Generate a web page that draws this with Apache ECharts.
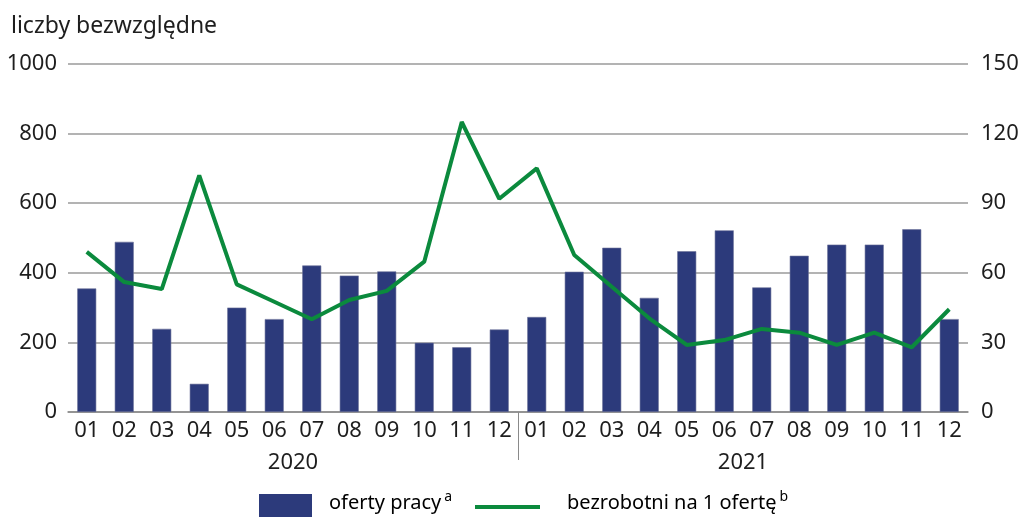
<!DOCTYPE html>
<html>
<head>
<meta charset="utf-8">
<script src="https://cdn.jsdelivr.net/npm/echarts@6/dist/echarts.min.js"></script>
<style>
html,body{margin:0;padding:0;background:#fff;}
#c{width:1025px;height:517px;}
</style>
</head>
<body>
<div id="c"></div>
<script>
const months = ['01','02','03','04','05','06','07','08','09','10','11','12','01','02','03','04','05','06','07','08','09','10','11','12'];
const years = ['2020','2021'];
const ofertyPracy = [355,489,239,81,300,267,421,392,404,199,186,237,273,403,472,328,462,522,358,449,481,481,525,267];
const bezrobotniNaOferte = [69,56,53,102,55,47.5,40,48.3,52.2,64.8,125,91.9,105,67.7,54,40.4,28.9,31,35.8,34.2,28.9,34.2,27.9,44.3];
const leftTicks = {min:0, max:1000, interval:200};
const rightTicks = {min:0, max:150, interval:30};
const yAxisTitle = 'liczby bezwzględne';
const seriesNames = ['oferty pracy','bezrobotni na 1 ofertę'];
const superscripts = ['a','b'];

const FONT = 'Noto Sans';
const TXT = '#1e1e1e';
const BAR = '#2c3a7b';
const LINE = '#0b8a3d';

const richLegend = {
  t:{fontFamily:FONT, fontSize:20, color:TXT},
  s:{fontFamily:FONT, fontSize:14, color:TXT, verticalAlign:'top', padding:[0,0,12,3]}
};

const chart = echarts.init(document.getElementById('c'), null, {renderer:'canvas'});
chart.setOption({
  animation:false,
  backgroundColor:'#fff',
  textStyle:{fontFamily:FONT, color:TXT},
  title:{text:yAxisTitle, left:6, top:10, textStyle:{fontFamily:FONT, fontSize:23, fontWeight:'normal', color:TXT}},
  grid:{left:68, right:57, top:64, bottom:105},
  xAxis:[
    {type:'category', data:months, boundaryGap:true, position:'bottom',
     axisLine:{show:true, lineStyle:{color:'#8a8a8a', width:1.5}},
     axisTick:{show:false},
     axisLabel:{fontFamily:FONT, fontSize:22, color:TXT, margin:8, interval:0}},
    {type:'category', data:years, position:'bottom', boundaryGap:true,
     axisLine:{show:false}, axisTick:{show:false},
     axisLabel:{fontFamily:FONT, fontSize:22, color:TXT, margin:40}}
  ],
  yAxis:[
    {type:'value', min:leftTicks.min, max:leftTicks.max, interval:leftTicks.interval, position:'left',
     axisLine:{show:false}, axisTick:{show:false},
     axisLabel:{fontFamily:FONT, fontSize:22, color:TXT, margin:11, formatter:function(v){return String(v);}},
     splitLine:{show:true, lineStyle:{color:'#9a9a9a', width:1.5}}},
    {type:'value', min:rightTicks.min, max:rightTicks.max, interval:rightTicks.interval, position:'right',
     axisLine:{show:false}, axisTick:{show:false},
     axisLabel:{fontFamily:FONT, fontSize:22, color:TXT, margin:13, formatter:function(v){return String(v);}},
     splitLine:{show:false}}
  ],
  series:[
    {name:seriesNames[0], type:'bar', data:ofertyPracy, xAxisIndex:0, yAxisIndex:0, barWidth:19,
     itemStyle:{color:BAR, borderColor:'#6b7299', borderWidth:0.6}},
    {name:seriesNames[1], type:'line', data:bezrobotniNaOferte, xAxisIndex:0, yAxisIndex:1,
     symbol:'none', lineStyle:{color:LINE, width:4}, itemStyle:{color:LINE}, z:3},
    {type:'custom', xAxisIndex:0, yAxisIndex:0, data:[[11,0]], silent:true, z:4, clip:false,
     renderItem:function(params, api){
       const p = api.coord([api.value(0), 0]);
       const w = api.size([1,0])[0];
       const x = Math.round(p[0] + w/2) + 0.5;
       return {type:'line', shape:{x1:x, y1:p[1], x2:x, y2:p[1]+48}, style:{stroke:'#8a8a8a', lineWidth:1}};
     }}
  ],
  graphic:[
    {type:'rect', left:259, top:494, shape:{width:53, height:30}, style:{fill:BAR}},
    {type:'text', left:329, top:490, style:{text:'{t|'+seriesNames[0]+'}{s|'+superscripts[0]+'}', rich:richLegend}},
    {type:'line', shape:{x1:475, y1:507, x2:540, y2:507}, style:{stroke:LINE, lineWidth:4}},
    {type:'text', left:567, top:490, style:{text:'{t|'+seriesNames[1]+'}{s|'+superscripts[1]+'}', rich:richLegend}}
  ]
});
</script>
</body>
</html>
